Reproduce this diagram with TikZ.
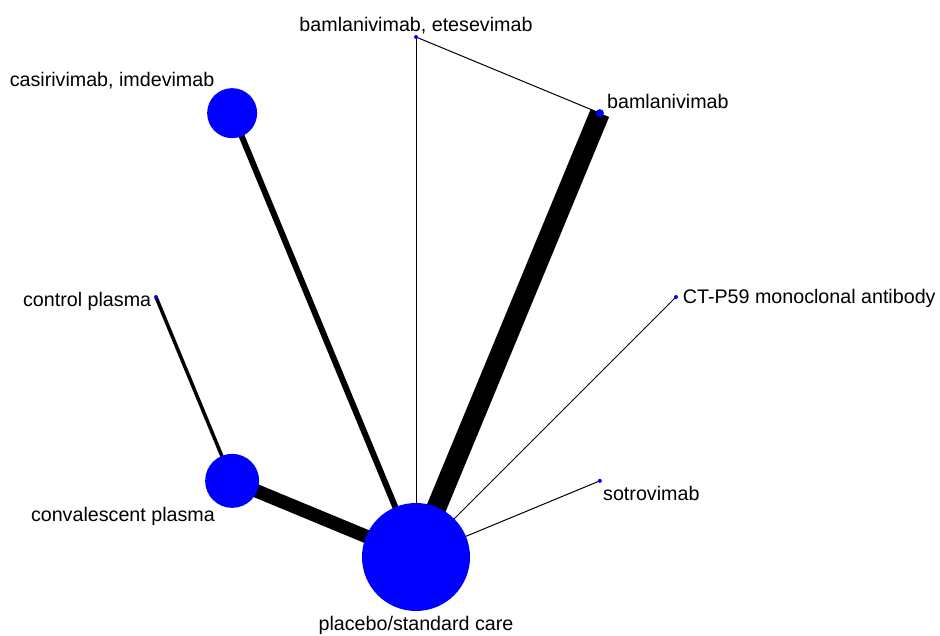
\documentclass[tikz,border=0pt]{standalone}
\usepackage{fontspec}
\setmainfont{Liberation Sans}
\usepackage{tikz}
\usetikzlibrary{positioning, backgrounds}
\definecolor{net-blue}{HTML}{0000FF}

\begin{document}
\begin{tikzpicture}[
    trt/.style={circle, fill=net-blue, inner sep=0pt},
    lbl/.style={font=\fontsize{11.2}{13}\selectfont, inner sep=0pt},
    link/.style={draw=black, line width=#1},
    link/.default=0.02cm,
]
    \useasboundingbox (-8.32,-6.76) rectangle (10.48,5.94);

    % Treatments on the circle
    \node[trt, minimum size=0.08cm] (bamete) at (90:5.2)  {};
    \node[trt, minimum size=0.16cm] (bam)    at (45:5.2)  {};
    \node[trt, minimum size=0.08cm] (ctp)    at (0:5.2)   {};
    \node[trt, minimum size=0.08cm] (sot)    at (-45:5.2) {};
    \node[trt, minimum size=2.16cm] (pbo)    at (-90:5.2) {};
    \node[trt, minimum size=1.08cm] (conv)   at (225:5.2) {};
    \node[trt, minimum size=0.08cm] (ctrl)   at (180:5.2) {};
    \node[trt, minimum size=1.0cm]  (casi)   at (135:5.2) {};

    % Labels
    \node[lbl, anchor=base]      (bamete-l) at ([shift={(0,0.1)}]bamete.center)     {bamlanivimab, etesevimab};
    \node[lbl, anchor=base west] (bam-l)    at ([shift={(0.14,0.09)}]bam.center)    {bamlanivimab};
    \node[lbl, anchor=base west] (ctp-l)    at ([shift={(0.13,-0.13)}]ctp.center)   {CT-P59 monoclonal antibody};
    \node[lbl, anchor=base west] (sot-l)    at ([shift={(0.06,-0.4)}]sot.center)    {sotrovimab};
    \node[lbl, anchor=base]      (pbo-l)    at ([shift={(0,-1.46)}]pbo.center)      {placebo/standard care};
    \node[lbl, anchor=base east] (conv-l)   at ([shift={(-0.34,-0.82)}]conv.center) {convalescent plasma};
    \node[lbl, anchor=base east] (ctrl-l)   at ([shift={(-0.09,-0.18)}]ctrl.center) {control plasma};
    \node[lbl, anchor=base east] (casi-l)   at ([shift={(-0.35,0.54)}]casi.center)  {casirivimab, imdevimab};

    % Comparisons
    \begin{scope}[on background layer]
        \draw[link=0.4cm]  (pbo.center) -- (bam.center);
        \draw[link=0.12cm] (pbo.center) -- (casi.center);
        \draw[link=0.27cm] (pbo.center) -- (conv.center);
        \draw[link]        (pbo.center) -- (bamete.center);
        \draw[link]        (pbo.center) -- (ctp.center);
        \draw[link]        (pbo.center) -- (sot.center);
        \draw[link=0.07cm] (conv.center) -- (ctrl.center);
        \draw[link]        (bamete.center) -- (bam.center);
    \end{scope}
\end{tikzpicture}
\end{document}
